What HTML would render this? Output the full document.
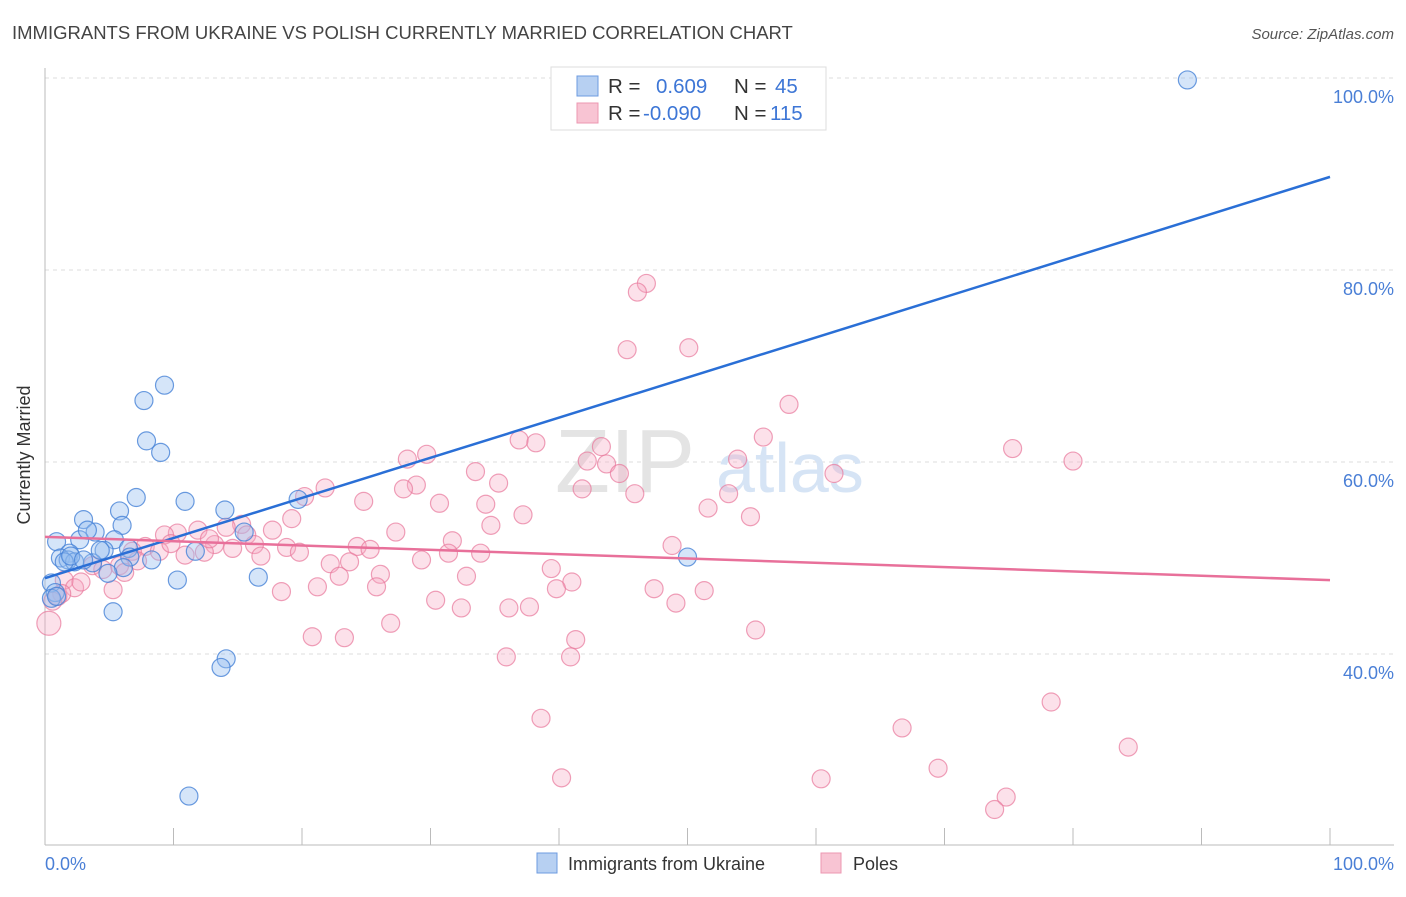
<!DOCTYPE html>
<html><head><meta charset="utf-8"><style>
body{margin:0;background:#fff;font-family:"Liberation Sans",sans-serif;}
svg text{font-family:"Liberation Sans",sans-serif;}
</style></head><body>
<svg id="chart" width="1406" height="892">
<text x="12" y="39" font-size="18.5" fill="#444">IMMIGRANTS FROM UKRAINE VS POLISH CURRENTLY MARRIED CORRELATION CHART</text>
<text x="1394" y="39" font-size="15" fill="#555" text-anchor="end" font-style="italic">Source: ZipAtlas.com</text>
<g id="grid"></g>
<text x="555" y="492" font-size="90" fill="#e4e4e4" font-family="Liberation Serif">ZIP</text>
<text x="716" y="492" font-size="70" fill="#d6e4f5">atlas</text>
<line x1="45" y1="68" x2="45" y2="845" stroke="#bbb"/>
<line x1="45" y1="845" x2="1394" y2="845" stroke="#bbb"/>
<g id="ticks"></g>
<g id="pink"></g><g id="blue"></g><g id="lines"></g>
<text x="30" y="455" font-size="18" fill="#333" text-anchor="middle" transform="rotate(-90 30 455)">Currently Married</text>
<text x="45" y="870" font-size="18" fill="#4a7fd6">0.0%</text>
<text x="1394" y="870" font-size="18" fill="#4a7fd6" text-anchor="end">100.0%</text>
<g>
<rect x="551" y="67" width="275" height="63" fill="#fff" stroke="#ddd"/>
<rect x="577" y="76" width="21" height="20" fill="#b7d0f2" stroke="#6d9be0"/>
<rect x="577" y="103" width="21" height="20" fill="#f8c4d3" stroke="#ec97b1"/>
<text x="608" y="93" font-size="20.5" fill="#333">R = </text><text x="656" y="93" font-size="20.5" fill="#3d76d6">0.609</text>
<text x="734" y="93" font-size="20.5" fill="#333">N = </text><text x="775" y="93" font-size="20.5" fill="#3d76d6">45</text>
<text x="608" y="120" font-size="20.5" fill="#333">R = </text><text x="643" y="120" font-size="20.5" fill="#3d76d6">-0.090</text>
<text x="734" y="120" font-size="20.5" fill="#333">N = </text><text x="770" y="120" font-size="20.5" fill="#3d76d6">115</text>
</g>
<g>
<rect x="537" y="853" width="20" height="20" fill="#b7d0f2" stroke="#6d9be0"/>
<text x="568" y="870" font-size="18" fill="#333">Immigrants from Ukraine</text>
<rect x="821" y="853" width="20" height="20" fill="#f8c4d3" stroke="#ec97b1"/>
<text x="853" y="870" font-size="18" fill="#333">Poles</text>
</g>
</svg>
<script>
const yTicks=[40,60,80,100];
const xTicks=[0,10,20,30,40,50,60,70,80,90,100];
const blueX=[88.9,9.3,7.7,7.9,9.0,7.1,10.9,14.0,5.8,19.7,3.0,6.0,3.9,0.9,2.7,3.3,5.4,15.5,6.5,4.6,1.9,1.2,1.8,2.3,3.7,6.6,8.3,11.7,50.0,6.1,4.9,10.3,16.6,0.5,0.8,0.5,5.3,14.1,13.7,11.2,0.9,4.3,1.5,2.0,3.0];
const blueY=[99.8,68.0,66.4,62.2,61.0,56.3,55.9,55.0,54.9,56.1,54.0,53.4,52.7,51.7,51.9,52.9,51.9,52.7,51.0,50.8,50.5,50.0,49.8,49.6,49.5,50.1,49.8,50.7,50.1,49.0,48.4,47.7,48.0,47.4,46.4,45.8,44.4,39.5,38.6,25.2,46.0,50.8,49.6,50.2,49.8];
const pinkX=[46.8,46.1,45.3,50.1,57.9,55.9,36.9,38.2,43.3,75.3,29.7,28.2,42.2,43.7,53.9,80.0,33.5,44.7,61.4,35.3,28.9,27.9,21.8,20.2,41.8,45.9,53.2,24.8,30.7,34.3,51.6,37.2,54.9,19.2,34.7,27.3,15.3,14.1,17.7,11.9,10.3,9.3,15.7,31.7,7.8,24.3,25.3,13.2,14.6,16.3,18.8,48.8,31.4,33.9,19.8,6.8,8.9,10.9,12.4,16.8,7.2,29.3,23.7,22.2,5.8,3.7,39.4,26.1,22.9,32.8,6.2,1.5,41.0,21.2,25.8,39.8,47.4,51.3,18.4,5.3,2.3,1.3,49.1,30.4,32.4,36.1,37.7,26.9,55.3,20.8,23.3,41.3,35.9,40.9,0.3,78.3,38.6,66.7,84.3,69.5,40.2,60.4,74.8,73.9,1.0,2.8,4.5,0.6,9.8,12.8];
const pinkY=[78.6,77.7,71.7,71.9,66.0,62.6,62.3,62.0,61.6,61.4,60.8,60.3,60.1,59.8,60.3,60.1,59.0,58.8,58.8,57.8,57.6,57.2,57.3,56.4,57.2,56.7,56.7,55.9,55.7,55.6,55.2,54.5,54.3,54.1,53.4,52.7,53.5,53.2,52.9,52.9,52.6,52.4,52.4,51.8,51.2,51.2,50.9,51.4,51.0,51.4,51.1,51.3,50.5,50.5,50.6,50.7,50.7,50.3,50.6,50.2,49.7,49.8,49.6,49.4,49.2,49.2,48.9,48.3,48.1,48.1,48.5,47.7,47.5,47.0,47.0,46.8,46.8,46.6,46.5,46.7,46.9,46.3,45.3,45.6,44.8,44.8,44.9,43.2,42.5,41.8,41.7,41.5,39.7,39.7,43.2,35.0,33.3,32.3,30.3,28.1,27.1,27.0,25.1,23.8,46.0,47.5,48.8,45.5,51.5,52.0];
const blueLine=[[0,47.9],[100,89.7]];
const pinkLine=[[0,52.2],[100,47.7]];
const sx=v=>45+v*12.85, sy=v=>1038-v*9.6;
const NS='http://www.w3.org/2000/svg';
function mk(tag,parent,attrs){const e=document.createElementNS(NS,tag);for(const k in attrs)e.setAttribute(k,attrs[k]);document.getElementById(parent).appendChild(e);return e;}
yTicks.forEach(t=>{
 const l=mk('line','grid',{x1:45,x2:1394,y1:sy(t),y2:sy(t),stroke:'#ddd','stroke-dasharray':'4,4'});
 
 
 const tx=mk('text','grid',{x:1394,y:sy(t)+25,'font-size':18,fill:'#4a7fd6','text-anchor':'end'});
 tx.textContent=t.toFixed(1)+'%';
 
 
});
xTicks.forEach(t=>{
 const l=mk('line','ticks',{x1:sx(t),x2:sx(t),y1:828,y2:845,stroke:'#bbb'});
 
 
});
pinkX.forEach((x,i)=>{
 const c=mk('circle','pink',{cx:sx(x),cy:sy(pinkY[i]),r:(x<1&&pinkY[i]<44)?12:9,fill:'rgba(245,170,195,0.35)',stroke:'rgba(232,120,155,0.7)','stroke-width':1.2});
 
 
});
blueX.forEach((x,i)=>{
 const c=mk('circle','blue',{cx:sx(x),cy:sy(blueY[i]),r:9,fill:'rgba(150,190,240,0.4)',stroke:'rgba(70,130,215,0.8)','stroke-width':1.2});
 
 
});
const bl=mk('line','lines',{x1:sx(blueLine[0][0]),y1:sy(blueLine[0][1]),x2:sx(blueLine[1][0]),y2:sy(blueLine[1][1]),stroke:'#2a6fd6','stroke-width':2.5});


const pl=mk('line','lines',{x1:sx(pinkLine[0][0]),y1:sy(pinkLine[0][1]),x2:sx(pinkLine[1][0]),y2:sy(pinkLine[1][1]),stroke:'#e8709a','stroke-width':2.5});


</script>
</body></html>
